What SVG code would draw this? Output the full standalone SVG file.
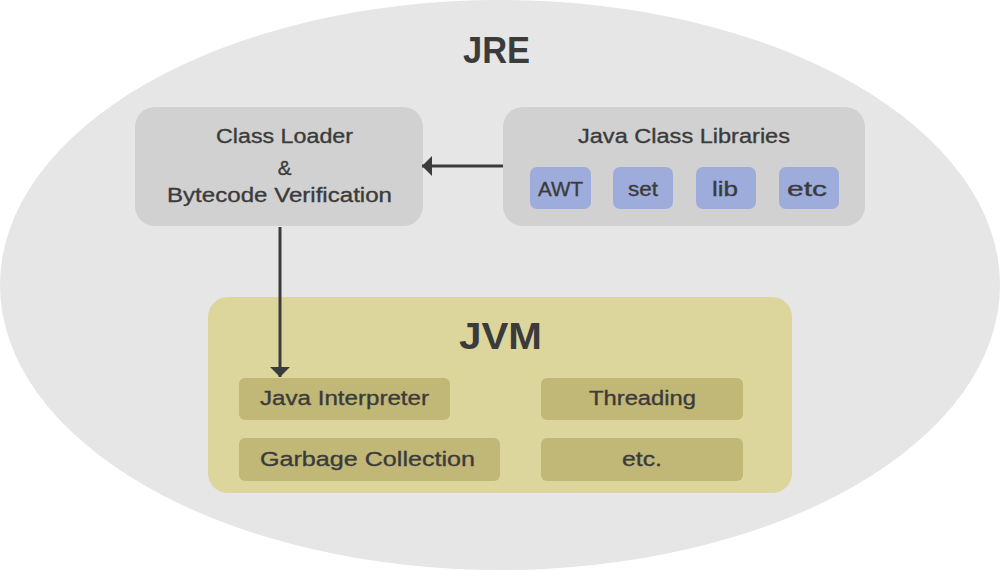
<svg xmlns="http://www.w3.org/2000/svg" width="1000" height="570" viewBox="0 0 1000 570">
<defs>
<style>
.t{font-family:"Liberation Sans",Arial,sans-serif;fill:#3b3b3b;text-anchor:middle;}
.lbl{font-size:20.5px;stroke:#3b3b3b;stroke-width:0.35px;}
.ttl{font-size:36px;font-weight:bold;}
.gbox{fill:#d1d1d1;}
.bbox{fill:#9dacdb;}
.ybox{fill:#c1b777;}
.conn{stroke:#3b3b3b;stroke-width:3;fill:none;}
</style>
<marker id="ah" viewBox="0 0 10 20" refX="10" refY="10" markerWidth="10" markerHeight="20" orient="auto" markerUnits="userSpaceOnUse">
<path d="M0,0 L10,10 L0,20 z" fill="#3b3b3b"/>
</marker>
</defs>
<rect width="1000" height="570" fill="#ffffff"/>
<g id="jre">
<ellipse cx="500" cy="285" rx="500" ry="285" fill="#e6e6e6"/>
<text class="t ttl" x="496.5" y="63" textLength="67" lengthAdjust="spacingAndGlyphs">JRE</text>
</g>
<g id="classloader">
<rect class="gbox" x="135" y="107" width="288" height="119" rx="20"/>
<text class="t lbl" x="284.5" y="143" textLength="137" lengthAdjust="spacingAndGlyphs">Class Loader</text>
<text class="t lbl" x="284.5" y="175">&amp;</text>
<text class="t lbl" x="279.5" y="202" textLength="225" lengthAdjust="spacingAndGlyphs">Bytecode Verification</text>
</g>
<g id="libraries">
<rect class="gbox" x="503" y="107" width="362" height="119" rx="20"/>
<text class="t lbl" x="684" y="143" textLength="212" lengthAdjust="spacingAndGlyphs">Java Class Libraries</text>
<g id="awt"><rect class="bbox" x="530" y="167" width="61" height="42" rx="7"/><text class="t lbl" x="560.5" y="196" textLength="45" lengthAdjust="spacingAndGlyphs">AWT</text></g>
<g id="set"><rect class="bbox" x="613" y="167" width="60" height="42" rx="7"/><text class="t lbl" x="643" y="196" textLength="30" lengthAdjust="spacingAndGlyphs">set</text></g>
<g id="lib"><rect class="bbox" x="696" y="167" width="60" height="42" rx="7"/><text class="t lbl" x="725" y="196" textLength="26" lengthAdjust="spacingAndGlyphs">lib</text></g>
<g id="etc1"><rect class="bbox" x="779" y="167" width="60" height="42" rx="7"/><text class="t lbl" x="807" y="196" textLength="40" lengthAdjust="spacingAndGlyphs">etc</text></g>
</g>
<g id="jvm">
<rect x="208" y="297" width="584" height="196" rx="20" fill="#dcd69c"/>
<text class="t ttl" x="500.5" y="349" textLength="83" lengthAdjust="spacingAndGlyphs">JVM</text>
<g id="interp"><rect class="ybox" x="239" y="378" width="211" height="42" rx="6"/><text class="t lbl" x="344.5" y="405" textLength="169" lengthAdjust="spacingAndGlyphs">Java Interpreter</text></g>
<g id="thread"><rect class="ybox" x="541" y="378" width="202" height="42" rx="6"/><text class="t lbl" x="642.5" y="405" textLength="107" lengthAdjust="spacingAndGlyphs">Threading</text></g>
<g id="gc"><rect class="ybox" x="239" y="438" width="261" height="43" rx="6"/><text class="t lbl" x="367.5" y="466" textLength="215" lengthAdjust="spacingAndGlyphs">Garbage Collection</text></g>
<g id="etc2"><rect class="ybox" x="541" y="438" width="202" height="43" rx="6"/><text class="t lbl" x="642" y="466" textLength="40" lengthAdjust="spacingAndGlyphs">etc.</text></g>
</g>
<g id="connectors">
<line class="conn" x1="503" y1="166" x2="422" y2="166" marker-end="url(#ah)"/>
<line class="conn" x1="280" y1="227" x2="280" y2="377" marker-end="url(#ah)"/>
</g>
</svg>
